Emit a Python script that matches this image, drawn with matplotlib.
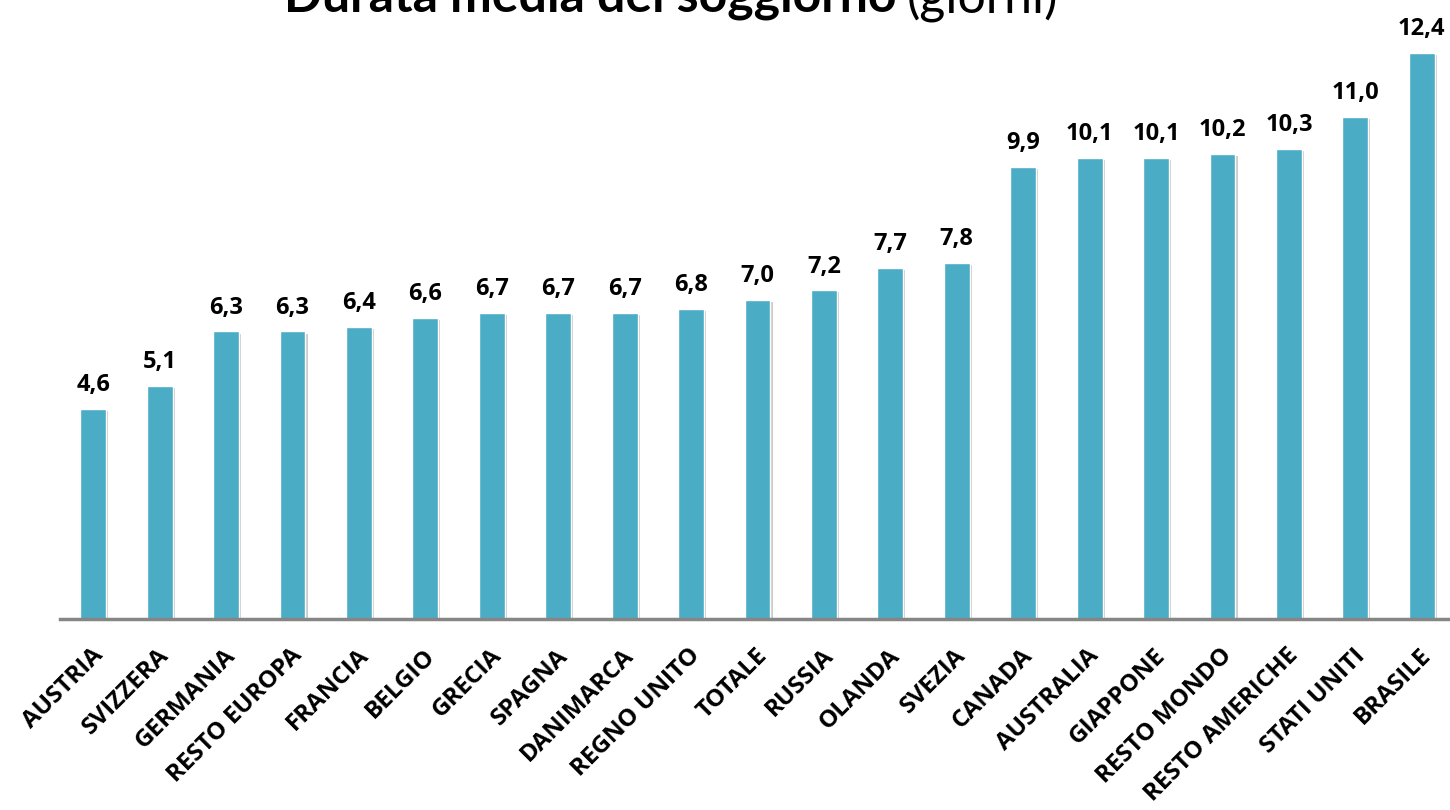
import matplotlib
matplotlib.use('Agg')
import matplotlib.pyplot as plt
import matplotlib.patheffects as pe
import matplotlib.transforms as mtransforms

# data
paesi = ['AUSTRIA', 'SVIZZERA', 'GERMANIA', 'RESTO EUROPA', 'FRANCIA', 'BELGIO',
         'GRECIA', 'SPAGNA', 'DANIMARCA', 'REGNO UNITO', 'TOTALE', 'RUSSIA',
         'OLANDA', 'SVEZIA', 'CANADA', 'AUSTRALIA', 'GIAPPONE', 'RESTO MONDO',
         'RESTO AMERICHE', 'STATI UNITI', 'BRASILE']
giorni = [4.6, 5.1, 6.3, 6.3, 6.4, 6.6, 6.7, 6.7, 6.7, 6.8, 7.0, 7.2,
          7.7, 7.8, 9.9, 10.1, 10.1, 10.2, 10.3, 11.0, 12.4]

BAR_COLOR = '#4BACC6'

fig = plt.figure(figsize=(14.5, 8.1), dpi=100)
W, H = 1450, 810
# axes placed in pixel terms: baseline at y=619, left edge x=60
ax = fig.add_axes([60 / W, (H - 619) / H, 1395 / W, 591 / H])

x = list(range(len(paesi)))
bars = ax.bar(x, giorni, width=0.39, color=BAR_COLOR, edgecolor='white',
              linewidth=1.0, zorder=3)
for b in bars:
    b.set_path_effects([pe.SimplePatchShadow(offset=(1.5, -1.5), shadow_rgbFace='#9a9a9a', alpha=0.5),
                        pe.Normal()])

for xi, v in zip(x, giorni):
    ax.annotate(f'{v:.1f}'.replace('.', ','), (xi, v), xytext=(0, 8.5),
                textcoords='offset points', ha='center', va='bottom',
                fontsize=17, fontweight='bold', family='Open Sans', color='black')

ax.set_xlim(-0.5, 20.5)
ax.set_ylim(0, 12.95)
ax.set_yticks([])
ax.set_xticks(x)
ax.set_xticklabels(paesi, rotation=45, ha='right', va='center',
                   rotation_mode='anchor', fontsize=17.5, fontweight='bold',
                   family='Open Sans')
ax.tick_params(axis='x', length=0, pad=24)
shift = mtransforms.ScaledTranslation(6 / 100, 0, fig.dpi_scale_trans)
for lab in ax.get_xticklabels():
    lab.set_transform(lab.get_transform() + shift)
for s in ['top', 'right', 'left']:
    ax.spines[s].set_visible(False)
ax.spines['bottom'].set_color('#868686')
ax.spines['bottom'].set_linewidth(2.5)
ax.spines['bottom'].set_zorder(4)

# title, partly cut at the top edge as in the original
fig.text(897 / W, 1 - 12 / H, 'Durata media del soggiorno', ha='right',
         va='baseline', fontsize=36, fontweight='bold', family='Lato')
fig.text(907 / W, 1 - 12 / H, '(giorni)', ha='left', va='baseline',
         fontsize=36, family='Lato')

fig.savefig('out.png', dpi=100)
